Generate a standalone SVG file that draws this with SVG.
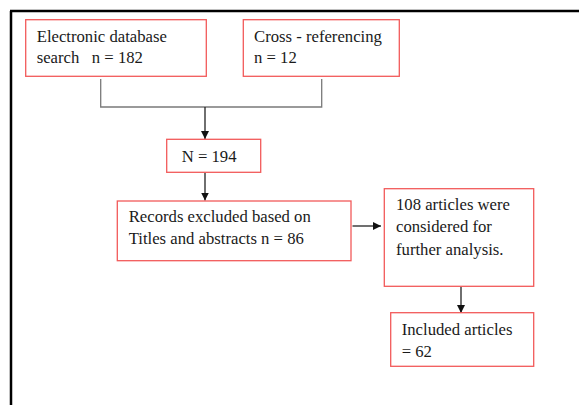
<svg xmlns="http://www.w3.org/2000/svg" width="579" height="405" viewBox="0 0 579 405">
<defs>
<style>
.box{fill:#fff;stroke:#f25a5a;stroke-width:1.3}
.t{font-family:"Liberation Serif","Times New Roman",serif;font-size:16.7px;fill:#1a1a1a}
.ln{fill:none;stroke:#7a7a7a;stroke-width:1.3}
.ar{fill:none;stroke:#222;stroke-width:1.3}
.frame{stroke:#000;stroke-width:2.5}
</style>
<marker id="ah" viewBox="0 0 10 10" refX="10" refY="5" markerWidth="8" markerHeight="8" markerUnits="userSpaceOnUse" orient="auto">
<path d="M0,0 L10,5 L0,10 z" fill="#111"/>
</marker>
</defs>
<rect width="579" height="405" fill="#fff"/>
<g id="frame">
<line class="frame" x1="10" y1="11" x2="579" y2="11"/>
<line class="frame" x1="11" y1="11" x2="11" y2="405"/>
</g>
<g id="connectors">
<polyline class="ln" points="100.7,79 100.7,107 321.7,107 321.7,79"/>
<line class="ar" x1="205" y1="107" x2="205" y2="139" marker-end="url(#ah)"/>
<line class="ar" x1="205" y1="172.5" x2="205" y2="200.5" marker-end="url(#ah)"/>
<line class="ar" x1="352.5" y1="226" x2="381" y2="226" marker-end="url(#ah)"/>
<line class="ar" x1="461" y1="286.5" x2="461" y2="313" marker-end="url(#ah)"/>
</g>
<g id="n1">
<rect class="box" x="25.7" y="19.7" width="180.6" height="56.6"/>
<text class="t" x="36.7" y="41.7">Electronic database</text>
<text class="t" x="36.7" y="63.3" xml:space="preserve">search   n = 182</text>
</g>
<g id="n2">
<rect class="box" x="243.3" y="19.7" width="156" height="56.6"/>
<text class="t" x="254" y="41.7">Cross - referencing</text>
<text class="t" x="254" y="63.3">n = 12</text>
</g>
<g id="n3">
<rect class="box" x="166.7" y="139.3" width="94" height="33"/>
<text class="t" x="181.7" y="161.7">N = 194</text>
</g>
<g id="n4">
<rect class="box" x="117.3" y="201" width="233.7" height="59.7"/>
<text class="t" x="128.7" y="222.3">Records excluded based on</text>
<text class="t" x="128.7" y="244">Titles and abstracts n = 86</text>
</g>
<g id="n5">
<rect class="box" x="384.3" y="188.7" width="149.4" height="97.6"/>
<text class="t" x="396" y="210">108 articles were</text>
<text class="t" x="396" y="232.3">considered for</text>
<text class="t" x="396" y="254.7">further analysis.</text>
</g>
<g id="n6">
<rect class="box" x="390.7" y="312.7" width="143" height="53.6"/>
<text class="t" x="401.7" y="335">Included articles</text>
<text class="t" x="401.7" y="356.7">= 62</text>
</g>
</svg>
